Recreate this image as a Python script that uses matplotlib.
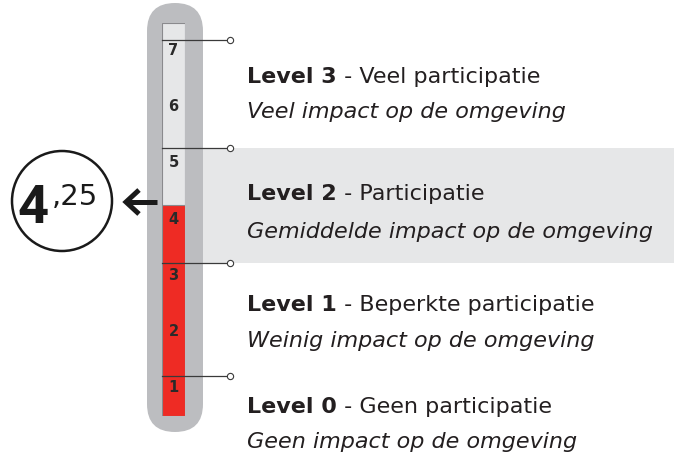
import matplotlib
matplotlib.use("Agg")
import matplotlib.pyplot as plt
from matplotlib.patches import FancyBboxPatch, Circle, Rectangle
import matplotlib.transforms as mtransforms

# ---- data ----
score = 4.25
scale_numbers = [1, 2, 3, 4, 5, 6, 7]
level_bounds = [1.2, 3.22, 5.27, 7.19]
highlight_level = (3.22, 5.27)
level_titles = ["Level 3", "Level 2", "Level 1", "Level 0"]
level_names = ["Veel participatie", "Participatie", "Beperkte participatie", "Geen participatie"]
level_impacts = ["Veel impact op de omgeving", "Gemiddelde impact op de omgeving",
                 "Weinig impact op de omgeving", "Geen impact op de omgeving"]
score_main = "4"
score_frac = ",25"

W, H = 674, 457
fig = plt.figure(figsize=(W / 100, H / 100), dpi=100)
bg = fig.add_axes([0, 0, 1, 1])
bg.set_xlim(0, W)
bg.set_ylim(H, 0)
bg.axis("off")

TXT = "#231f20"
FONT = ["DejaVu Sans"]
FS = 16.0

# thermometer tube axes (value scale 0.5 .. 7.5)
tube_l, tube_r, tube_t, tube_b = 162, 185, 22.6, 415.6
ax = fig.add_axes([tube_l / W, (H - tube_b) / H, (tube_r - tube_l) / W, (tube_b - tube_t) / H])
ax.set_xlim(0, 1)
ax.set_ylim(0.5, 7.5)
ax.axis("off")
ax.set_zorder(2)
ax.patch.set_visible(False)

# highlight band for level 2 (in background axes, y from value scale)
band_tr = mtransforms.blended_transform_factory(bg.transData, ax.transData)
bg.add_patch(Rectangle((203, highlight_level[0]), W - 203 + 5,
                       highlight_level[1] - highlight_level[0],
                       transform=band_tr, fc="#e6e7e8", ec="none", clip_on=False, zorder=0))

# outer pill
bg.add_patch(FancyBboxPatch((147, 3), 56, 429, boxstyle="round,pad=0,rounding_size=28",
                            fc="#bcbdc0", ec="none", zorder=1))

blend = mtransforms.blended_transform_factory(ax.transAxes, ax.transData)

# tube background
ax.add_patch(Rectangle((0, 0.5), 1, 7.0, fc="#e6e7e8", ec="#8a8a8d", lw=0.8, zorder=1))
# red fill
ax.bar(0.5, score - 0.5, bottom=0.5, width=1.0, color="#ee2b24", edgecolor="#8a8a8d",
       linewidth=0.8, zorder=2)

# numbers
for n in scale_numbers:
    ax.text(0.5, n, str(n), ha="center", va="center", fontsize=10.5, fontweight="semibold",
            color="#2a2a2a", family=["DejaVu Sans"], zorder=4)

# boundary lines with open circle ends
x_end = (230 - tube_l) / (tube_r - tube_l)
for b in level_bounds:
    ax.plot([0, x_end], [b, b], transform=blend, color="#3a3a3a", lw=0.9,
            clip_on=False, zorder=3)
    ax.plot([x_end], [b], transform=blend, marker="o", ms=4.5, mfc="white",
            mec="#3a3a3a", mew=0.8, clip_on=False, zorder=4)

# level texts
bold_baselines = [83, 200, 311, 413]
ital_baselines = [118, 238, 347, 448]
fig.canvas.draw()
for title, name, imp, yb, yi in zip(level_titles, level_names, level_impacts,
                                    bold_baselines, ital_baselines):
    t = bg.text(247, yb, title, fontsize=FS, fontweight="bold", color=TXT,
                va="baseline", ha="left", family=FONT, zorder=5)
    bb = t.get_window_extent(renderer=fig.canvas.get_renderer())
    xd = bg.transData.inverted().transform((bb.x1, 0))[0]
    bg.text(xd, yb, " - " + name, fontsize=FS, color=TXT, va="baseline", ha="left",
            family=FONT, zorder=5)
    bg.text(247, yi, imp, fontsize=FS, style="italic", color=TXT, va="baseline",
            ha="left", family=FONT, zorder=5)

# score circle
bg.add_patch(Circle((62, 201), 50, fc="white", ec="#1a1a1a", lw=1.8, zorder=3))
bg.text(49, 223, score_main, fontsize=39, fontweight="bold", color="#1a1a1a",
        ha="right", va="baseline", family=["Liberation Sans Narrow", "Roboto", "DejaVu Sans"],
        zorder=4)
bg.text(52, 205, score_frac, fontsize=21, color="#1a1a1a", ha="left",
        va="baseline", family=["DejaVu Sans"], zorder=4)

# arrow
bg.plot([127, 157], [202, 202], color="#1a1a1a", lw=3.6, solid_capstyle="butt", zorder=4)
bg.plot([139, 126, 139], [190, 202, 214], color="#1a1a1a", lw=3.6,
        solid_joinstyle="miter", solid_capstyle="butt", zorder=4)

fig.savefig("out.png", dpi=100)
